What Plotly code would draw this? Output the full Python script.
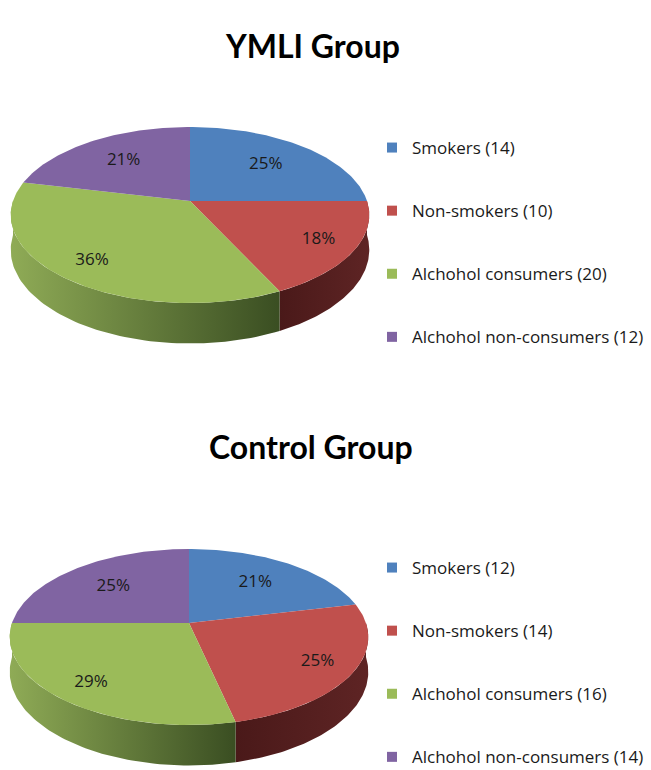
import numpy as np
import plotly.graph_objects as go

# ---------------- data ----------------
categories = ["Smokers", "Non-smokers", "Alchohol consumers", "Alchohol non-consumers"]
ymli_counts = [14, 10, 20, 12]
control_counts = [12, 14, 16, 14]
group_titles = ["YMLI Group", "Control Group"]

# ---------------- style ----------------
top_colors = ["#4F81BD", "#C0504D", "#9BBB59", "#8064A2"]
side_colors = [["#41699a", "#2a4466"], ["#4a1919", "#5e2424"],
               ["#8fab56", "#3a4e22"], ["#6a5288", "#43345a"]]
TITLE_FONT = "Lato"
TEXT_FONT = "Open Sans"
W, H = 651, 770
PIE_CENTERS = [(190, 201), (189, 623)]
A0, C, AY, DEPTH = 177.0, 0.159, 85.8, 34.0


def proj(cx, cy, u, v, h):
    s = 1.0 / (1.0 + C * v)
    return cx + A0 * u * s, cy - AY * v * s + h * DEPTH * s


def arc(t0, t1, n):
    return np.radians(np.linspace(t0, t1, n))


fig = go.Figure()


def add_pie(counts, center, legend_name):
    cx, cy = center
    total = float(sum(counts))
    fracs = [c / total for c in counts]
    cum = np.concatenate([[0], np.cumsum(fracs)])
    starts = 90 - 360 * cum[:-1]
    ends = 90 - 360 * cum[1:]
    # sides (visible near half: angles in [-180, 0])
    for i in range(len(counts)):
        a = min(starts[i], 0)
        b = max(ends[i], -180)
        if a <= b:
            continue
        th = arc(a, b, 80)
        xs_t, ys_t = proj(cx, cy, np.cos(th), np.sin(th), 0)
        xs_b, ys_b = proj(cx, cy, np.cos(th[::-1]), np.sin(th[::-1]), 1)
        xs = np.concatenate([xs_t, xs_b])
        ys = np.concatenate([ys_t, ys_b])
        fig.add_trace(go.Scatter(
            x=xs, y=ys, fill="toself", mode="lines", line=dict(width=0),
            fillgradient=dict(type="horizontal",
                              colorscale=[[0, side_colors[i][0]], [1, side_colors[i][1]]],
                              start=float(xs.min()), stop=float(xs.max())),
            showlegend=False, hoverinfo="skip"))
    # tops
    for i in range(len(counts)):
        th = arc(starts[i], ends[i], max(int(abs(starts[i] - ends[i])), 4))
        xs, ys = proj(cx, cy, np.cos(th), np.sin(th), 0)
        xs = np.concatenate([[cx], xs, [cx]])
        ys = np.concatenate([[cy], ys, [cy]])
        fig.add_trace(go.Scatter(
            x=xs, y=ys, fill="toself", mode="lines", line=dict(width=0),
            fillcolor=top_colors[i], showlegend=False, hoverinfo="skip"))
    # percentage labels
    lx, ly, lt = [], [], []
    for i in range(len(counts)):
        mid = np.radians((starts[i] + ends[i]) / 2)
        r = 0.65 if np.sin(mid) > 0 else 0.8
        x, y = proj(cx, cy, r * np.cos(mid), r * np.sin(mid), 0)
        lx.append(x); ly.append(y); lt.append(f"{round(fracs[i] * 100)}%")
    fig.add_trace(go.Scatter(x=lx, y=ly, text=lt, mode="text",
                             textfont=dict(family=TEXT_FONT, size=17, color="#1a1a1a"),
                             showlegend=False, hoverinfo="skip"))
    # legend entries
    for i, cat in enumerate(categories):
        fig.add_trace(go.Scatter(
            x=[None], y=[None], mode="markers",
            marker=dict(symbol="square", size=10, color=top_colors[i]),
            name=f"{cat} ({counts[i]})", legend=legend_name,
            legendgroup=f"{legend_name}_{i}"))


add_pie(ymli_counts, PIE_CENTERS[0], "legend")
add_pie(control_counts, PIE_CENTERS[1], "legend2")

legend_common = dict(font=dict(family=TEXT_FONT, size=17, color="#1a1a1a"),
                     tracegroupgap=38, itemwidth=30, bgcolor="rgba(0,0,0,0)",
                     xanchor="left", yanchor="top", traceorder="grouped")

fig.update_layout(
    width=W, height=H, autosize=False,
    margin=dict(l=0, r=0, t=0, b=0, autoexpand=False),
    paper_bgcolor="white", plot_bgcolor="white",
    xaxis=dict(range=[0, W], visible=False, fixedrange=True),
    yaxis=dict(range=[H, 0], visible=False, fixedrange=True),
    legend=dict(x=372 / W, y=1 - 130 / H, **legend_common),
    legend2=dict(x=372 / W, y=1 - 550 / H, **legend_common),
    annotations=[
        dict(text=f"<b>{group_titles[0]}</b>", x=312 / W, y=1 - 24 / H,
             xref="paper", yref="paper", showarrow=False,
             font=dict(family=TITLE_FONT, size=32, color="black")),
        dict(text=f"<b>{group_titles[1]}</b>", x=311 / W, y=1 - 446 / H,
             xref="paper", yref="paper", showarrow=False,
             font=dict(family=TITLE_FONT, size=32, color="black")),
    ],
)

fig.write_html("out.html")
